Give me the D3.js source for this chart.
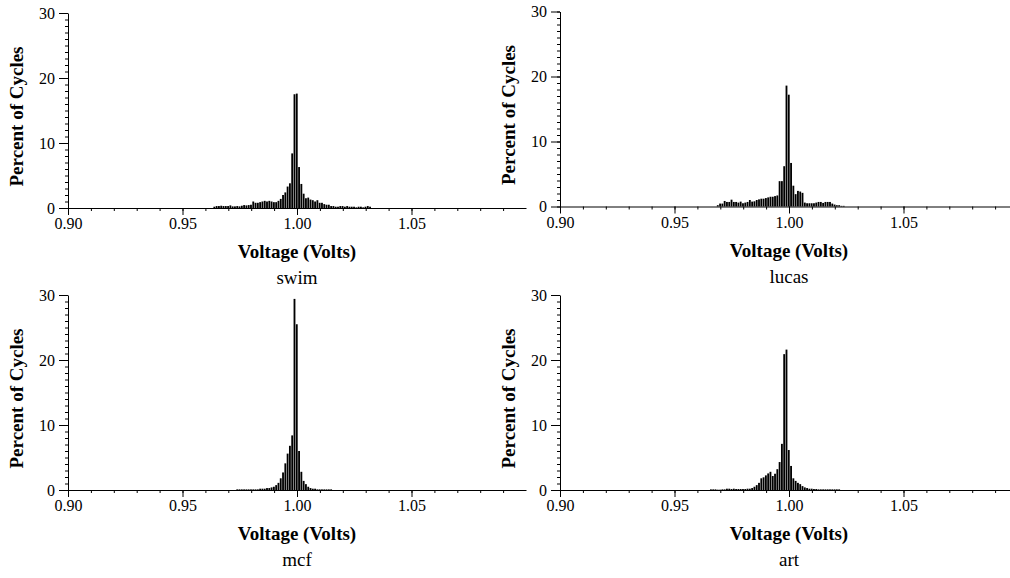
<!DOCTYPE html>
<html>
<head>
<meta charset="utf-8">
<script src="https://cdn.jsdelivr.net/npm/d3@7"></script>
<style>
  html, body { margin: 0; padding: 0; background: #fff; }
  svg { display: block; }
  .tick text { font-family: "Liberation Serif", "Times New Roman", serif; font-size: 16px; fill: #000; }
  .domain, .tick line { stroke: #000; stroke-width: 1; }
</style>
</head>
<body>
<svg id="chart" width="1010" height="578"></svg>
<script>
// Voltage histograms: percent of cycles spent in each 0.001 V bin.
const binWidth = 0.001;

const swimStart = 0.964;
const swimValues = [0.2, 0.3, 0.3, 0.35, 0.3, 0.3, 0.3, 0.4, 0.25, 0.25, 0.3, 0.25, 0.35, 0.45, 0.4, 0.45,
  0.5, 1.0, 0.8, 0.8, 0.9, 1.0, 1.1, 1.0, 1.1, 1.0, 0.9, 0.9, 1.1, 1.4, 2.0, 2.4, 3.3, 3.8, 8.4,
  17.5, 17.6, 6.3, 3.7, 2.2, 1.5, 1.6, 1.3, 1.2, 1.0, 1.2, 0.8, 0.8, 0.6, 0.5, 0.5, 0.3, 0.3, 0.2,
  0.2, 0.3, 0.3, 0.2, 0.3, 0.2, 0.2, 0.2, 0.1, 0.2, 0.2, 0.1, 0.2, 0.3, 0.2];

const lucasStart = 0.969;
const lucasValues = [0.2, 0.45, 0.45, 0.85, 0.7, 0.7, 1.05, 0.7, 0.7, 0.6, 0.75, 0.5, 0.6, 0.7, 1.0, 0.75,
  0.8, 1.0, 1.1, 1.2, 1.2, 1.3, 1.4, 1.5, 1.5, 1.6, 1.7, 3.9, 3.9, 6.2, 18.6, 17.2, 6.7, 3.2, 1.9,
  2.4, 2.3, 2.1, 0.6, 0.5, 0.5, 0.5, 0.5, 0.6, 0.7, 0.7, 0.55, 0.7, 0.7, 0.7, 0.45, 0.3, 0.2, 0.2,
  0.1, 0.1];

const mcfStart = 0.974;
const mcfValues = [0.1, 0.1, 0.1, 0.1, 0.1, 0.1, 0.1, 0.1, 0.1, 0.1, 0.2, 0.2, 0.2, 0.3, 0.3, 0.4, 0.5,
  0.75, 1.1, 1.8, 2.7, 4.1, 5.6, 6.8, 8.4, 29.4, 25.5, 6.0, 2.8, 1.4, 0.9, 0.5, 0.3, 0.2, 0.2, 0.1,
  0.1, 0.1, 0.1, 0.1, 0.1, 0.1];

const artStart = 0.966;
const artValues = [0.1, 0.1, 0.1, 0.05, 0.05, 0.1, 0.1, 0.2, 0.2, 0.15, 0.2, 0.15, 0.15, 0.15, 0.15,
  0.15, 0.2, 0.2, 0.3, 0.5, 0.75, 1.1, 1.8, 1.95, 2.25, 2.55, 2.8, 2.15, 2.5, 3.2, 4.3, 7.1,
  20.9, 21.6, 6.15, 3.7, 1.8, 1.4, 1.1, 0.9, 0.6, 0.4, 0.3, 0.2, 0.2, 0.15, 0.15, 0.1, 0.1, 0.1,
  0.1, 0.1, 0.1, 0.1, 0.1, 0.1, 0.1];

const xDomain = [0.90, 1.10];
const yDomain = [0, 30];
const xTickLabels = [0.90, 0.95, 1.00, 1.05];
const xMinorTicks = d3.range(90, 110).map(d => d / 100);
const yTickLabels = [0, 10, 20, 30];
const yMinorTicks = d3.range(0, 31);

const xTitle = "Voltage (Volts)";
const yTitle = "Percent of Cycles";

// panel placement: left edge of plot and y of the zero line
const panels = [
  { name: "swim",  start: swimStart,  values: swimValues,  left: 68,  base: 208 },
  { name: "lucas", start: lucasStart, values: lucasValues, left: 560, base: 206.5 },
  { name: "mcf",   start: mcfStart,   values: mcfValues,   left: 68,  base: 490 },
  { name: "art",   start: artStart,   values: artValues,   left: 560, base: 490 }
];

const plotW = 458, plotH = 195;
const serif = '"Liberation Serif", "Times New Roman", serif';
const svg = d3.select("#chart");

panels.forEach(p => {
  const x = d3.scaleLinear().domain(xDomain).range([p.left, p.left + plotW]);
  const y = d3.scaleLinear().domain(yDomain).range([p.base, p.base - plotH]);
  const g = svg.append("g");

  const bins = p.values.map((v, i) => ({ v: p.start + i * binWidth, pct: v }));

  g.append("g").selectAll("rect").data(bins).join("rect")
    .attr("x", d => x(d.v - binWidth / 2))
    .attr("width", d => Math.max(0, x(d.v + binWidth / 2) - x(d.v - binWidth / 2) - 0.45))
    .attr("y", d => y(d.pct))
    .attr("height", d => y(0) - y(d.pct))
    .attr("fill", "#000");

  // x axis: minor ticks every 0.01, labelled majors every 0.05
  g.append("g").attr("transform", `translate(0,${p.base})`)
    .call(d3.axisBottom(x).tickValues(xMinorTicks).tickSize(3).tickSizeOuter(0).tickFormat(""));
  g.append("g").attr("transform", `translate(0,${p.base})`)
    .call(d3.axisBottom(x).tickValues(xTickLabels).tickSize(7).tickSizeOuter(0)
      .tickPadding(3).tickFormat(d3.format(".2f")))
    .select(".domain").remove();

  // y axis: minor ticks every 1, labelled majors every 10
  g.append("g").attr("transform", `translate(${p.left},0)`)
    .call(d3.axisLeft(y).tickValues(yMinorTicks).tickSize(3).tickSizeOuter(0).tickFormat(""));
  g.append("g").attr("transform", `translate(${p.left},0)`)
    .call(d3.axisLeft(y).tickValues(yTickLabels).tickSize(9).tickSizeOuter(0)
      .tickPadding(4).tickFormat(d3.format("d")))
    .select(".domain").remove();

  g.append("text")
    .attr("x", p.left + plotW / 2).attr("y", p.base + 50)
    .attr("text-anchor", "middle")
    .attr("font-family", serif).attr("font-size", 19).attr("font-weight", "bold")
    .text(xTitle);

  g.append("text")
    .attr("transform", `translate(${p.left - 45},${p.base - plotH / 2 + 6}) rotate(-90)`)
    .attr("text-anchor", "middle")
    .attr("font-family", serif).attr("font-size", 19).attr("font-weight", "bold")
    .text(yTitle);

  g.append("text")
    .attr("x", p.left + plotW / 2).attr("y", p.base + 76)
    .attr("text-anchor", "middle")
    .attr("font-family", serif).attr("font-size", 19)
    .text(p.name);
});
</script>
</body>
</html>
